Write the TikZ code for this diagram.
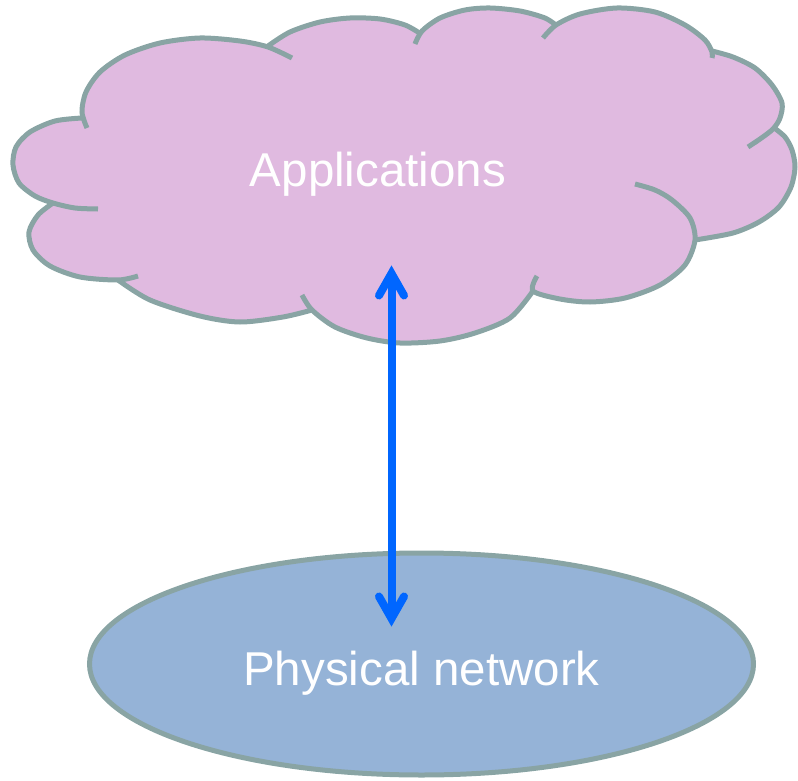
\documentclass[tikz,border=0pt]{standalone}
\usepackage{fontspec}
\setmainfont{Liberation Sans}
\usetikzlibrary{shapes.geometric,calc}
\definecolor{cloudfill}{RGB}{224,186,224}
\definecolor{edgegray}{RGB}{137,164,164}
\definecolor{netfill}{RGB}{149,179,215}
\definecolor{arrowblue}{RGB}{0,102,255}
\tikzset{
  lobe/.style={draw=edgegray, line width=5pt},
  label/.style={text=white, font=\fontsize{47.5}{57}\selectfont, inner sep=0pt, anchor=base},
  link/.style={draw=arrowblue, line width=8pt},
  barb/.style={draw=arrowblue, line width=8pt, line cap=round, line join=miter},
}
\begin{document}
\begin{tikzpicture}[x=1pt,y=-1pt]
\useasboundingbox (0,0) rectangle (798,781);
% cloud fill
\fill[cloudfill]
  plot[smooth] coordinates {(82,118) (86,92) (100,72) (125,55) (160,43) (200,38) (240,41) (268,46)}
  -- plot[smooth] coordinates {(268,46) (290,32) (320,22) (350,18) (380,19) (405,25) (421,34)}
  -- plot[smooth] coordinates {(421,34) (440,18) (465,10) (490,8) (520,11) (545,18) (556,26)}
  -- plot[smooth] coordinates {(556,26) (580,14) (617,8) (655,12) (685,25) (705,40) (712,52)}
  -- plot[smooth] coordinates {(712,52) (733,57) (755,68) (772,85) (782,103) (780,118) (774,128)}
  -- plot[smooth] coordinates {(774,128) (785,137) (792,150) (795,167) (791,187) (779,207) (759,222) (733,233) (695,240)}
  -- plot[smooth] coordinates {(695,240) (685,265) (660,285) (625,298) (590,302) (560,299) (533,291)}
  -- plot[smooth] coordinates {(533,291) (510,318) (475,333) (440,341) (400,343) (367,338) (335,327) (312,310)}
  -- plot[smooth] coordinates {(312,310) (283,317) (240,322) (200,316) (150,300) (118,280)}
  -- plot[smooth] coordinates {(118,280) (80,277) (50,266) (33,250) (29,232) (38,215) (53,203)}
  -- plot[smooth] coordinates {(53,203) (35,196) (19,183) (13,165) (16,147) (30,132) (55,121) (82,118)}
  -- cycle;
% cloud outline, lobe by lobe
\draw[lobe] plot[smooth] coordinates {(87,128) (82,112) (86,92) (100,72) (125,55) (160,43) (200,38) (240,41) (268,47) (292,58)};
\draw[lobe] plot[smooth] coordinates {(268,46) (290,32) (320,22) (350,18) (380,19) (405,25) (421,34)};
\draw[lobe] plot[smooth] coordinates {(415,44) (422,31) (440,18) (465,10) (490,8) (520,11) (545,18) (557,26)};
\draw[lobe] plot[smooth] coordinates {(543,38) (556,25) (580,14) (617,8) (655,12) (685,25) (705,40) (712,52) (712,58)};
\draw[lobe] plot[smooth] coordinates {(712,51) (733,57) (755,68) (772,85) (782,103) (780,118) (773,129) (760,139) (748,147)};
\draw[lobe] plot[smooth] coordinates {(773,127) (785,137) (792,150) (795,167) (791,187) (779,207) (759,222) (733,233) (695,240)};
\draw[lobe] plot[smooth] coordinates {(537,276) (533,291) (560,299) (590,302) (625,298) (660,285) (685,265) (695,240) (690,218) (672,200) (655,190) (635,184)};
\draw[lobe] plot[smooth] coordinates {(302,295) (312,310) (335,327) (367,338) (400,343) (440,341) (475,333) (510,318) (533,291)};
\draw[lobe] plot[smooth] coordinates {(118,280) (150,300) (200,316) (240,322) (283,317) (312,310)};
\draw[lobe] plot[smooth] coordinates {(53,203) (38,215) (29,232) (33,250) (50,266) (80,277) (118,280) (138,276)};
\draw[lobe] plot[smooth] coordinates {(82,118) (55,121) (30,132) (16,147) (13,165) (19,183) (35,196) (53,203) (75,208) (98,209)};
\node[label] (apps) at (378,186) {Applications};
% physical network
\node[ellipse, draw=edgegray, line width=5pt, fill=netfill, minimum width=664pt, minimum height=222pt, inner sep=0pt] (net) at (421.5,664) {};
\node[label] (netlabel) at (421.5,685) {Physical network};
% arrow
\coordinate (atop) at (391.5,273.5);
\coordinate (abot) at (391.5,618.5);
\draw[link] (atop) -- (abot);
\draw[barb] ($(atop)+(-12.5,22)$) -- (atop) -- ($(atop)+(12.5,22)$);
\draw[barb] ($(abot)+(-12.5,-22)$) -- (abot) -- ($(abot)+(12.5,-22)$);
\end{tikzpicture}
\end{document}
